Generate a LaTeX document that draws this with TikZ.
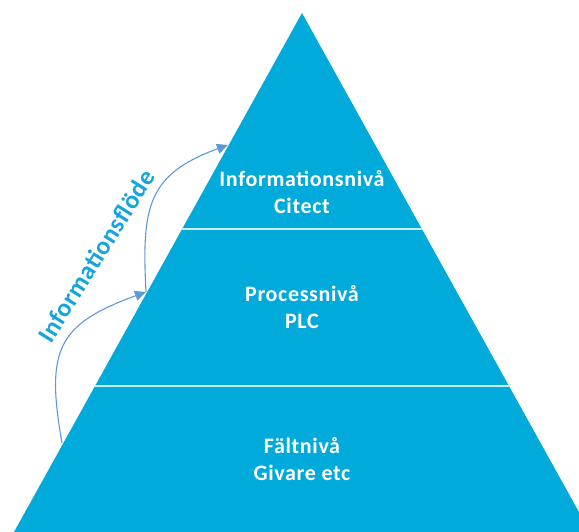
\documentclass[tikz,border=0pt]{standalone}
\usepackage{fontspec}
\setmainfont{Carlito}
\usetikzlibrary{arrows.meta}
\definecolor{pyr}{RGB}{0,170,218}
\definecolor{flow}{RGB}{91,155,213}
\definecolor{flowtext}{RGB}{20,165,220}
\begin{document}
\begin{tikzpicture}[x=1pt,y=1pt,
  level/.style={font=\bfseries\fontsize{22}{27}\selectfont\addfontfeatures{LetterSpace=3}, text=white, align=center},
  divider/.style={draw=white!80!pyr, line width=1.5pt},
  flowarrow/.style={draw=flow, line width=1.1pt, -{Triangle[length=11pt,width=10pt]}}]
\useasboundingbox (0,0) rectangle (579,532);
\clip (0,0) rectangle (579,532);
% pyramid body
\coordinate (apex) at (302,519);
\coordinate (bl) at (14,0);
\coordinate (br) at (590,0);
\fill[pyr] (apex) -- (bl) -- (br) -- cycle;
% level separators
\begin{scope}
  \clip (apex) -- (bl) -- (br) -- cycle;
  \coordinate (d1l) at (0,303);
  \coordinate (d1r) at (579,303);
  \coordinate (d2l) at (0,146);
  \coordinate (d2r) at (579,146);
  \draw[divider] (d1l) -- (d1r);
  \draw[divider] (d2l) -- (d2r);
\end{scope}
% level labels
\node[level] (top) at (302,339.5) {Informationsnivå\\Citect};
\node[level] (mid) at (302,225) {Processnivå\\PLC};
\node[level] (low) at (302,73) {Fältnivå\\Givare etc};
% information flow
\coordinate (f1) at (62,89);
\coordinate (f2) at (146,240);
\coordinate (f3) at (228,387);
\draw[flowarrow] (f1) to[out=100,in=200,looseness=1.4] (f2);
\draw[flowarrow] (f2) to[out=93,in=200,looseness=1.3] (f3);
\node[rotate=58, text=flowtext, font=\bfseries\fontsize{25.5}{25}\selectfont\addfontfeatures{LetterSpace=2}] (flowlabel) at (96,276) {Informationsflöde};
\end{tikzpicture}
\end{document}
